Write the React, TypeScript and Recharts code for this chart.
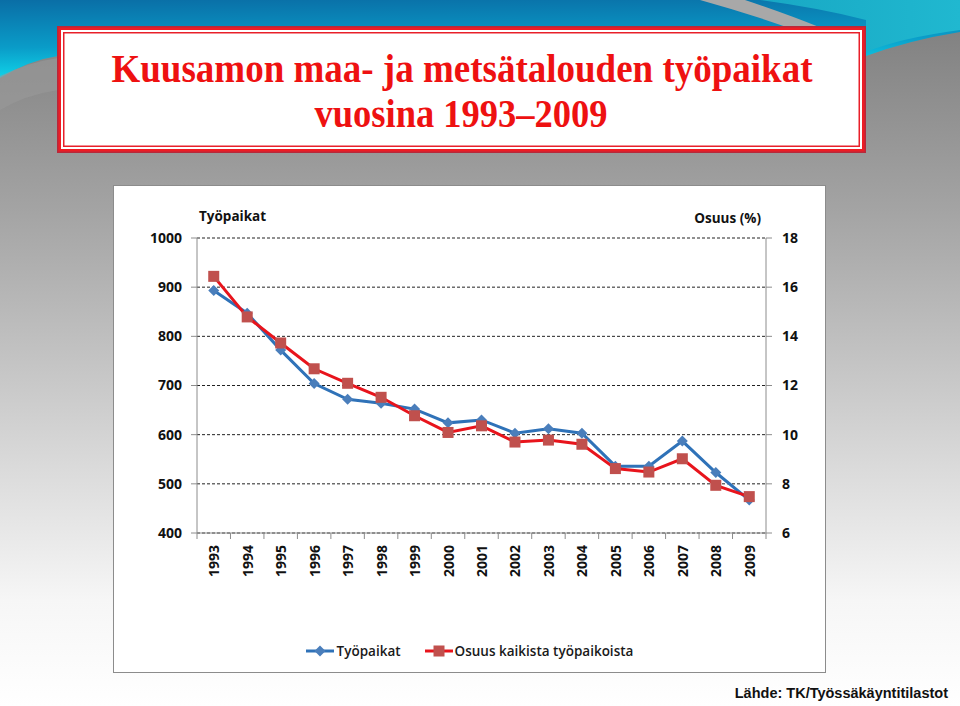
import React from 'react';
import { ComposedChart, Line, XAxis, YAxis, CartesianGrid, Legend } from 'recharts';

const years = ['1993', '1994', '1995', '1996', '1997', '1998', '1999', '2000', '2001', '2002', '2003', '2004', '2005', '2006', '2007', '2008', '2009'];
const jobs = [893, 847, 772, 704, 672, 664, 652, 624, 630, 603, 612, 603, 536, 536, 587, 523, 467];
const share = [16.44, 14.79, 13.73, 12.68, 12.09, 11.52, 10.77, 10.09, 10.36, 9.7, 9.78, 9.61, 8.62, 8.48, 9.02, 7.94, 7.48];
const leftTicks = [400, 500, 600, 700, 800, 900, 1000];
const rightTicks = [6, 8, 10, 12, 14, 16, 18];

const titleLine1 = 'Kuusamon maa- ja metsätalouden työpaikat';
const titleLine2 = 'vuosina 1993–2009';
const leftTitle = 'Työpaikat';
const rightTitle = 'Osuus (%)';
const seriesNames = ['Työpaikat', 'Osuus kaikista työpaikoista'];
const source = 'Lähde: TK/Työssäkäyntitilastot';

const data = years.map((y, i) => ({ year: y, jobs: jobs[i], share: share[i] }));

const BLUE_LINE = '#2f72b8';
const BLUE_MARK = '#4a7ebb';
const RED_LINE = '#e8141c';
const RED_MARK = '#c0504d';
const AXIS = '#8c8c8c';
const FONT = '"Open Sans", "Noto Sans", sans-serif';

const Diamond = (props: any) => {
  const { cx, cy } = props;
  if (cx == null || cy == null) return null;
  const r = 5.5;
  return <path d={`M${cx},${cy - r} L${cx + r},${cy} L${cx},${cy + r} L${cx - r},${cy} Z`} fill={BLUE_MARK} />;
};

const Square = (props: any) => {
  const { cx, cy } = props;
  if (cx == null || cy == null) return null;
  const s = 11;
  return <rect x={cx - s / 2} y={cy - s / 2} width={s} height={s} fill={RED_MARK} />;
};

const XTick = (props: any) => {
  const { x, y, payload, index } = props;
  let half = payload && payload.offset ? payload.offset : 0;
  if (!half && props.width) half = props.width / years.length / 2;
  return (
    <g>
      <line x1={x - half} y1={y} x2={x - half} y2={y + 6} stroke={AXIS} />
      {index === years.length - 1 && <line x1={x + half} y1={y} x2={x + half} y2={y + 6} stroke={AXIS} />}
      <text
        x={x}
        y={y + 12}
        transform={`rotate(-90, ${x}, ${y + 12})`}
        textAnchor="end"
        dominantBaseline="central"
        fontFamily={FONT}
        fontWeight={700}
        fontSize={14}
        fill="#111"
      >
        {payload.value}
      </text>
    </g>
  );
};

const LegendContent = () => (
  <div style={{ display: 'flex', justifyContent: 'center', alignItems: 'center', fontFamily: FONT, fontSize: 13.5, fontWeight: 600, color: '#1a1a1a' }}>
    <svg width={28} height={14} style={{ marginRight: 3 }}>
      <line x1={0} y1={7} x2={28} y2={7} stroke={BLUE_LINE} strokeWidth={3} />
      <Diamond cx={14} cy={7} />
    </svg>
    <span style={{ marginRight: 24 }}>{seriesNames[0]}</span>
    <svg width={28} height={14} style={{ marginRight: 2 }}>
      <line x1={0} y1={7} x2={28} y2={7} stroke={RED_LINE} strokeWidth={3} />
      <Square cx={14} cy={7} />
    </svg>
    <span>{seriesNames[1]}</span>
  </div>
);

export default function App() {
  return (
    <div style={{ position: 'absolute', left: 0, top: 0, width: 960, height: 706, overflow: 'hidden', background: '#fff' }}>
      <svg width={960} height={706} style={{ position: 'absolute', left: 0, top: 0 }}>
        <defs>
          <linearGradient id="grayBg" x1="0" y1="0" x2="0" y2="1">
            <stop offset="0" stopColor="#7c7c7c" />
            <stop offset="0.3" stopColor="#a4a4a4" />
            <stop offset="0.62" stopColor="#d4d4d4" />
            <stop offset="0.85" stopColor="#f6f6f6" />
            <stop offset="1" stopColor="#ffffff" />
          </linearGradient>
          <linearGradient id="blueBg" x1="0" y1="0" x2="0.15" y2="1">
            <stop offset="0" stopColor="#0a6ea6" />
            <stop offset="0.6" stopColor="#0a9cc8" />
            <stop offset="1" stopColor="#10d6ea" />
          </linearGradient>
          <linearGradient id="tealBg" x1="0" y1="0" x2="1" y2="0">
            <stop offset="0" stopColor="#18a8c4" />
            <stop offset="1" stopColor="#20b8d0" />
          </linearGradient>
        </defs>
        <rect x={0} y={0} width={960} height={706} fill="url(#grayBg)" />
        <path d="M0,0 H960 V32 Q910,40 866,56 L58,56 Q30,60 0,78 Z" fill="url(#blueBg)" />
        <path d="M760,0 H960 V30 Q900,38 866,52 L866,20 Q820,8 760,0 Z" fill="url(#tealBg)" />
        <path d="M700,0 L745,0 Q820,25 866,48 L866,58 Q790,25 700,0 Z" fill="#a8a8a8" />
        <path d="M0,76 Q30,62 58,58 L58,90 Q25,95 0,110 Z" fill="#9a9a9a" opacity={0.6} />

        <rect x={57} y={26} width={809} height={127} fill="#b8283a" />
        <rect x={58.5} y={27.5} width={806} height={124} fill="#ee1c24" />
        <rect x={61} y={30} width={801} height={119} fill="#ffffff" />
        <rect x={63} y={32} width={797} height={115} fill="#e8202a" />
        <rect x={64.5} y={33.5} width={794} height={112} fill="#ffffff" />
        <text x={462} y={82} textAnchor="middle" textLength={701} lengthAdjust="spacingAndGlyphs" fontFamily='"Liberation Serif", "DejaVu Serif", serif' fontWeight={700} fontSize={40} fill="#ee1111">
          {titleLine1}
        </text>
        <text x={461} y={127} textAnchor="middle" textLength={293} lengthAdjust="spacingAndGlyphs" fontFamily='"Liberation Serif", "DejaVu Serif", serif' fontWeight={700} fontSize={40} fill="#ee1111">
          {titleLine2}
        </text>

        <text x={948} y={698} textAnchor="end" fontFamily='"Liberation Sans", Arial, sans-serif' fontWeight={700} fontSize={14.5} fill="#111">
          {source}
        </text>
      </svg>

      <div style={{ position: 'absolute', left: 113, top: 185, width: 711, height: 486, border: `1px solid ${AXIS}`, background: '#fff' }}>
        <ComposedChart width={711} height={486} data={data} margin={{ top: 52, right: 0, bottom: 0, left: 0 }}>
          <CartesianGrid vertical={false} stroke="#222" strokeDasharray="3 2" />
          <XAxis
            dataKey="year"
            scale="band"
            height={139}
            tickLine={false}
            tickSize={0}
            tickMargin={0}
            axisLine={{ stroke: AXIS }}
            tick={<XTick />}
            interval={0}
          />
          <YAxis
            domain={[400, 1000]}
            ticks={leftTicks}
            width={83}
            tickSize={6}
            tickMargin={9}
            axisLine={{ stroke: AXIS }}
            tickLine={{ stroke: AXIS }}
            tick={{ fontFamily: FONT, fontWeight: 700, fontSize: 14, fill: '#111' }}
            label={{
              content: (p: any) => (
                <text x={p.viewBox.x + p.viewBox.width + 2} y={p.viewBox.y - 22} dominantBaseline="central" fontFamily={FONT} fontWeight={700} fontSize={13.5} fill="#111">
                  {leftTitle}
                </text>
              ),
            }}
          />
          <YAxis
            yAxisId="right"
            orientation="right"
            domain={[6, 18]}
            ticks={rightTicks}
            width={59}
            tickSize={6}
            tickMargin={10}
            axisLine={{ stroke: AXIS }}
            tickLine={{ stroke: AXIS }}
            tick={{ fontFamily: FONT, fontWeight: 700, fontSize: 14, fill: '#111', textAnchor: 'start' }}
            label={{
              content: (p: any) => (
                <text x={p.viewBox.x - 5} y={p.viewBox.y - 20} textAnchor="end" dominantBaseline="central" fontFamily={FONT} fontWeight={700} fontSize={13.5} fill="#111">
                  {rightTitle}
                </text>
              ),
            }}
          />
          <Legend
            layout="horizontal"
            verticalAlign="middle"
            align="center"
            content={<LegendContent />}
            wrapperStyle={{ top: 456, left: 0, width: 711 }}
          />
          <Line
            dataKey="jobs"
            name={seriesNames[0]}
            stroke={BLUE_LINE}
            strokeWidth={3}
            dot={<Diamond />}
            activeDot={false}
            isAnimationActive={false}
          />
          <Line
            dataKey="share"
            yAxisId="right"
            name={seriesNames[1]}
            stroke={RED_LINE}
            strokeWidth={3}
            dot={<Square />}
            activeDot={false}
            isAnimationActive={false}
          />
        </ComposedChart>
      </div>
    </div>
  );
}
